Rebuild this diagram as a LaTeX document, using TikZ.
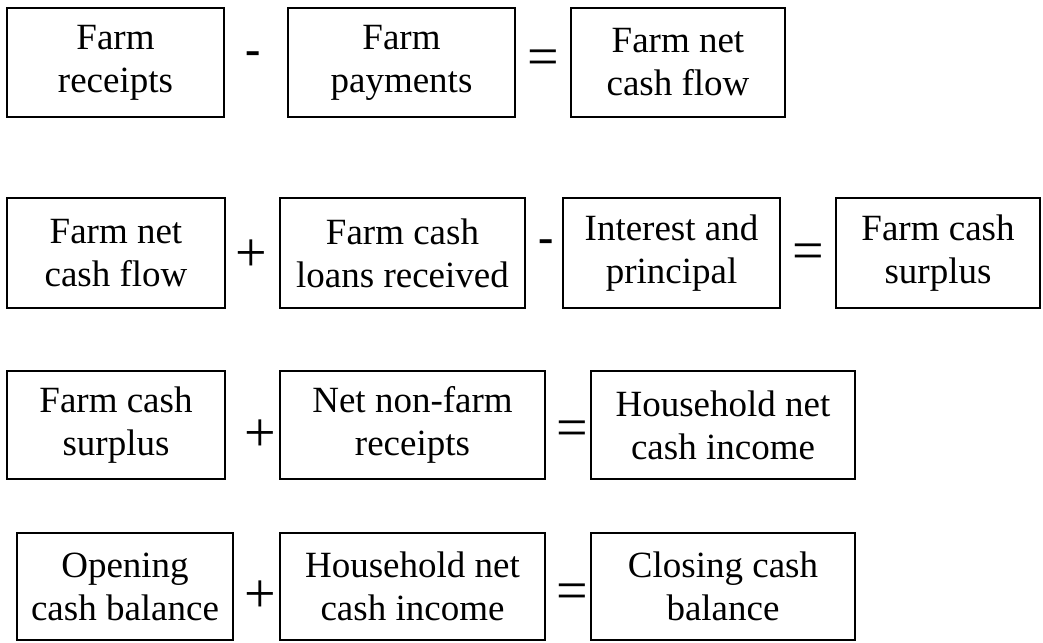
\documentclass[tikz,border=0pt]{standalone}
\usepackage{fontspec}
\setmainfont{Liberation Serif}
\usepackage{tikz}
\usetikzlibrary{positioning}

\tikzset{
    cashbox/.style={draw, line width=1.3pt, align=center, inner sep=0pt,
        font=\fontsize{37}{43}\selectfont},
    opsign/.style={inner sep=0pt, font=\fontsize{56}{56}\selectfont},
    minussign/.style={inner sep=0pt, font=\fontsize{46}{46}\selectfont\bfseries}
}

\begin{document}
\begin{tikzpicture}[x=1pt, y=-1pt]
    \useasboundingbox (0,0) rectangle (1043,642);

    % Row 1: farm net cash flow
    \node[cashbox, minimum width=217pt, minimum height=109pt] (receipts) at (115.5,62.5) {Farm\\receipts};
    \node[cashbox, minimum width=227pt, minimum height=109pt] (payments) at (401.5,62.5) {Farm\\payments};
    \node[cashbox, minimum width=214pt, minimum height=109pt] (netflow) at (678,62.5) {Farm net\\cash flow};
    \node[minussign] (minusA) at (253,58) {-};
    \node[opsign] (eqA) at (543,63) {=};

    % Row 2: farm cash surplus
    \node[cashbox, minimum width=218pt, minimum height=110pt] (netflowB) at (116,253) {Farm net\\cash flow};
    \node[cashbox, minimum width=245pt, minimum height=110pt] (loans) at (402.5,253) {Farm cash\\loans received};
    \node[cashbox, minimum width=217pt, minimum height=110pt] (interest) at (671.5,253) {Interest and\\principal};
    \node[cashbox, minimum width=204pt, minimum height=110pt] (surplus) at (938,253) {Farm cash\\surplus};
    \node[opsign] (plusB) at (251,256) {+};
    \node[minussign] (minusB) at (546,246) {-};
    \node[opsign] (eqB) at (808,257) {=};

    % Row 3: household net cash income
    \node[cashbox, minimum width=218pt, minimum height=108pt] (surplusC) at (116,425) {Farm cash\\surplus};
    \node[cashbox, minimum width=265pt, minimum height=108pt] (nonfarm) at (412.5,425) {Net non-farm\\receipts};
    \node[cashbox, minimum width=264pt, minimum height=108pt] (income) at (723,425) {Household net\\cash income};
    \node[opsign] (plusC) at (260,436) {+};
    \node[opsign] (eqC) at (572,434) {=};

    % Row 4: closing cash balance
    \node[cashbox, minimum width=216pt, minimum height=107pt] (opening) at (125,586.5) {Opening\\cash balance};
    \node[cashbox, minimum width=265pt, minimum height=107pt] (incomeD) at (412.5,586.5) {Household net\\cash income};
    \node[cashbox, minimum width=264pt, minimum height=107pt] (closing) at (723,586.5) {Closing cash\\balance};
    \node[opsign] (plusD) at (260,597) {+};
    \node[opsign] (eqD) at (572,597) {=};
\end{tikzpicture}
\end{document}
